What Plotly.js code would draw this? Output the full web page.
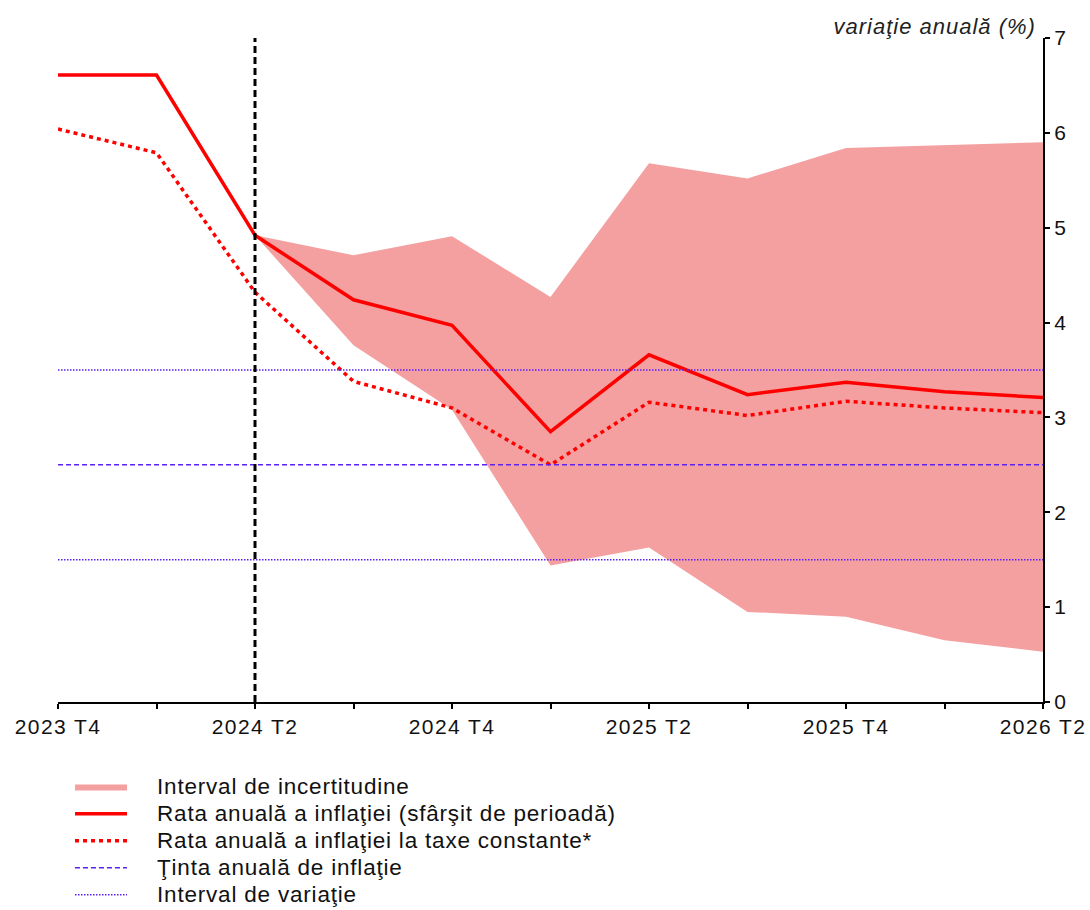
<!DOCTYPE html>
<html>
<head>
<meta charset="utf-8">
<script src="https://cdn.plot.ly/plotly-3.0.1.min.js"></script>
<style>
html,body{margin:0;padding:0;background:#fff;}
#chart{width:1090px;height:910px;}
#chart .legendtext{font-size:22.5px !important;letter-spacing:0.8px;transform:translateX(25px);}
#chart .legend .scrollbox, #chart .legend g, #chart .legend{clip-path:none !important;}
#chart .xtick text{letter-spacing:1.4px;}
#chart .annotation-text{letter-spacing:1px;}
</style>
</head>
<body>
<div id="chart"></div>
<script>
const quarters = ['2023 T4','2024 T1','2024 T2','2024 T3','2024 T4','2025 T1','2025 T2','2025 T3','2025 T4','2026 T1','2026 T2'];
const inflation = [6.61, 6.61, 4.92, 4.24, 3.97, 2.85, 3.66, 3.24, 3.37, 3.27, 3.21];
const inflationConstTax = [6.04, 5.79, 4.32, 3.38, 3.10, 2.50, 3.16, 3.02, 3.17, 3.10, 3.05];
const bandQuarters = ['2024 T2','2024 T3','2024 T4','2025 T1','2025 T2','2025 T3','2025 T4','2026 T1','2026 T2'];
const bandUpper = [4.92, 4.71, 4.91, 4.27, 5.68, 5.52, 5.84, 5.87, 5.90];
const bandLower = [4.92, 3.76, 3.08, 1.44, 1.63, 0.95, 0.90, 0.65, 0.53];
const target = 2.5;
const rangeLow = 1.5;
const rangeHigh = 3.5;
const forecastStart = '2024 T2';
const labels = {
  band: 'Interval de incertitudine',
  infl: 'Rata anuală a inflaţiei (sfârşit de perioadă)',
  inflConst: 'Rata anuală a inflaţiei la taxe constante*',
  target: 'Ţinta anuală de inflaţie',
  range: 'Interval de variaţie',
  yTitle: 'variaţie anuală (%)'
};

const BAND = '#F4A0A0';
const RED = '#FF0000';
const BLUE = '#5B22F2';

const traces = [
  {x: bandQuarters, y: bandLower, type: 'scatter', mode: 'lines', line: {width: 0, color: BAND}, showlegend: false, hoverinfo: 'skip'},
  {x: bandQuarters, y: bandUpper, type: 'scatter', mode: 'lines', fill: 'tonexty', fillcolor: BAND, line: {width: 0, color: BAND}, name: labels.band},
  {x: quarters, y: inflation, type: 'scatter', mode: 'lines', line: {color: RED, width: 3.5}, name: labels.infl},
  {x: quarters, y: inflationConstTax, type: 'scatter', mode: 'lines', line: {color: RED, width: 3.5, dash: '4px,4px'}, name: labels.inflConst},
  {x: quarters, y: quarters.map(() => target), type: 'scatter', mode: 'lines', line: {color: BLUE, width: 1.5, dash: '5px,3px'}, name: labels.target},
  {x: quarters, y: quarters.map(() => rangeHigh), type: 'scatter', mode: 'lines', line: {color: BLUE, width: 1.5, dash: '1.5px,1.5px'}, name: labels.range, legendgroup: 'r'},
  {x: quarters, y: quarters.map(() => rangeLow), type: 'scatter', mode: 'lines', line: {color: BLUE, width: 1.5, dash: '1.5px,1.5px'}, name: labels.range, legendgroup: 'r', showlegend: false},
  {x: [forecastStart, forecastStart], y: [0, 7], type: 'scatter', mode: 'lines', line: {color: '#000', width: 3, dash: '7px,4px'}, showlegend: false, hoverinfo: 'skip'}
];

const layout = {
  width: 1090, height: 910,
  margin: {l: 58, r: 47, t: 38, b: 208, autoexpand: false},
  paper_bgcolor: '#fff', plot_bgcolor: '#fff',
  font: {family: 'Liberation Sans, Arial, sans-serif', color: '#111', size: 21},
  showlegend: true,
  xaxis: {
    type: 'category', categoryorder: 'array', categoryarray: quarters,
    range: [0, 10], showgrid: false, zeroline: false,
    showline: true, linecolor: '#000', linewidth: 2,
    ticks: 'outside', ticklen: 5, tickwidth: 2, tickcolor: '#000',
    ticklabelstep: 2, tickfont: {size: 21, color: '#111'}
  },
  yaxis: {
    side: 'right', range: [0, 7], dtick: 1, showgrid: false, zeroline: false,
    showline: true, linecolor: '#000', linewidth: 2,
    ticks: 'outside', ticklen: 5, tickwidth: 2, tickcolor: '#000',
    tickfont: {size: 21, color: '#111'}
  },
  legend: {
    x: 0.0122, xanchor: 'left', y: -0.0995, yanchor: 'top',
    orientation: 'v', itemwidth: 52, tracegroupgap: 0,
    font: {size: 18.5, color: '#111'}, bgcolor: 'rgba(0,0,0,0)'
  },
  annotations: [{
    text: labels.yTitle, xref: 'paper', yref: 'paper', x: 0.985, y: 1, xanchor: 'right', yanchor: 'bottom',
    yshift: -3, showarrow: false, font: {size: 22, color: '#222', family: 'Liberation Sans, Arial, sans-serif', style: 'italic'}
  }]
};

Plotly.newPlot('chart', traces, layout, {displayModeBar: false, staticPlot: true});
</script>
</body>
</html>
